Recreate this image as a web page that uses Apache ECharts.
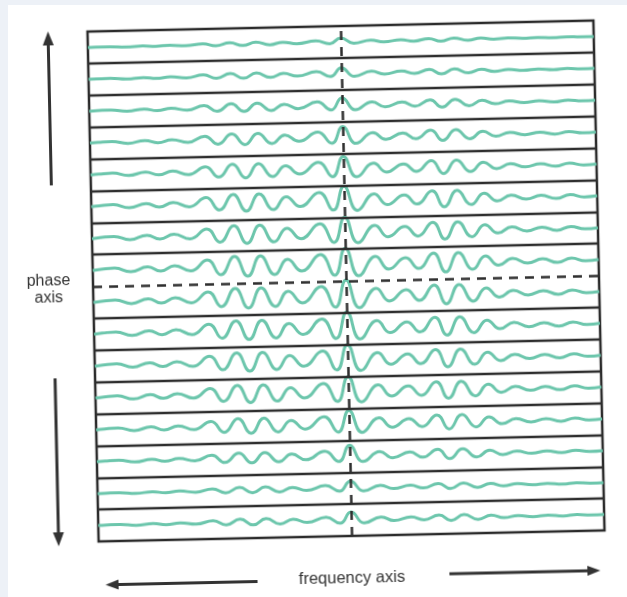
<!doctype html>
<html>
<head>
    <meta charset="utf-8">
    <title>phase / frequency axis</title>
    <script src="https://cdn.jsdelivr.net/npm/echarts@6/dist/echarts.min.js"></script>
    <style>
        body { margin: 0; padding: 0; background: #edf1f7; }
        /* white paper of the scan */
        #paper { position: absolute; left: 8px; top: 5px; right: 0; bottom: 0; background: #fff; }
        /* the scanned page is tilted a little, so the chart is turned the same way */
        #kspace { position: absolute; left: 0; top: 0; width: 627px; height: 597px;
                  transform: rotate(-1.25deg); transform-origin: 346px 281px; }
    </style>
</head>
<body>
    <div id="paper"></div>
    <div id="kspace"></div>
    <script>
        // x positions along the frequency axis (px from the centre line)
        var freqPos = [-253, -245, -231, -215, -198, -185, -171, -155, -138, -125, -111, -98, -85, -71, -58, -44,
            -25, -11, 0, 13, 30, 43, 60, 73, 88, 100, 113, 127, 140, 153, 167, 182, 197, 212, 226, 240, 253];
        // echo shape of the strongest row, px (up = +)
        var echoShape = [0, 1, 2, -2, 2.5, -2, 3, -2.5, 8, -7, 11, -9, 11, -8, 7, -5,
            11, -10, 17, -11, 8, -5, 6, -5, 10, -9, 10, -7, 6, -3.5, 3, -2, 2, -2, 2, -1, 0];
        // per row, top to bottom: height of the centre peak (px) and scale of the ringing
        var peakHeight = [4, 6, 8, 11, 13, 15, 16, 17, 17, 17, 16, 16, 14, 11, 7, 8];
        var ringScale = [0.15, 0.25, 0.4, 0.55, 0.7, 0.85, 0.9, 1, 1, 0.95, 0.92, 0.88, 0.75, 0.5, 0.28, 0.3];
        // row dividers (the middle one, 8, is drawn dashed)
        var rowLines = [1, 2, 3, 4, 5, 6, 7, 9, 10, 11, 12, 13, 14, 15];
        var midLine = 8;

        var ROW_PX = 32;   // height of one row in px
        var nRows = peakHeight.length;

        var chart = echarts.init(document.getElementById('kspace'), null, { renderer: 'canvas' });

        var series = [];
        for (var k = 0; k < nRows; k++) {
            var base = nRows - k - 0.5;
            var pts = freqPos.map(function (x, i) {
                var v = x === 0 ? peakHeight[k] : ringScale[k] * echoShape[i];
                return [x, base + v / ROW_PX];
            });
            series.push({
                type: 'line',
                data: pts,
                smooth: 0.5,
                showSymbol: false,
                silent: true,
                lineStyle: { color: '#6cc6ac', width: 3 },
                z: 2
            });
        }

        // row lines and the two dashed centre lines
        var marks = rowLines.map(function (v) {
            return { yAxis: v, lineStyle: { type: 'solid', width: 2.3, color: '#2e2e2e' } };
        });
        marks.push({ yAxis: midLine, lineStyle: { type: [9, 7], width: 2.5, color: '#2e2e2e' } });
        marks.push({ xAxis: 0, lineStyle: { type: [9, 7], width: 2.5, color: '#2e2e2e' } });
        series.push({
            type: 'line',
            data: [],
            silent: true,
            z: 3,
            markLine: {
                silent: true,
                symbol: ['none', 'none'],
                label: { show: false },
                animation: false,
                data: marks
            }
        });

        var ink = '#333';
        var font = '16px "Liberation Sans", Arial, sans-serif';

        chart.setOption({
            animation: false,
            grid: {
                left: 93, top: 26, width: 506, height: 510,
                show: true, borderColor: '#2b2b2b', borderWidth: 2.5, backgroundColor: 'transparent'
            },
            xAxis: { type: 'value', min: -253, max: 253, show: false },
            yAxis: { type: 'value', min: 0, max: nRows, show: false },
            series: series,
            graphic: [
                // phase axis arrows
                { type: 'line', shape: { x1: 53.5, y1: 179, x2: 53.5, y2: 36 }, style: { stroke: ink, lineWidth: 3 } },
                { type: 'polygon', shape: { points: [[53.5, 25], [48, 39], [59, 39]] }, style: { fill: ink } },
                { type: 'line', shape: { x1: 53, y1: 372, x2: 53, y2: 529 }, style: { stroke: ink, lineWidth: 3 } },
                { type: 'polygon', shape: { points: [[53, 540], [47.5, 526], [58.5, 526]] }, style: { fill: ink } },
                { type: 'text', style: { text: 'phase', x: 48.5, y: 274.5, align: 'center', verticalAlign: 'middle', font: font, fill: '#333' } },
                { type: 'text', style: { text: 'axis', x: 48.5, y: 292, align: 'center', verticalAlign: 'middle', font: font, fill: '#333' } },
                // frequency axis arrows
                { type: 'line', shape: { x1: 251, y1: 579.5, x2: 110, y2: 579.5 }, style: { stroke: ink, lineWidth: 3 } },
                { type: 'polygon', shape: { points: [[99, 579.5], [112, 574.5], [112, 584.5]] }, style: { fill: ink } },
                { type: 'text', style: { text: 'frequency axis', x: 345.5, y: 578, align: 'center', verticalAlign: 'middle', font: '16.5px "Liberation Sans", Arial, sans-serif', fill: '#333' } },
                { type: 'line', shape: { x1: 443, y1: 576, x2: 583, y2: 576 }, style: { stroke: ink, lineWidth: 3 } },
                { type: 'polygon', shape: { points: [[594, 576], [581, 571], [581, 581]] }, style: { fill: ink } }
            ]
        });
    </script>
</body>
</html>
